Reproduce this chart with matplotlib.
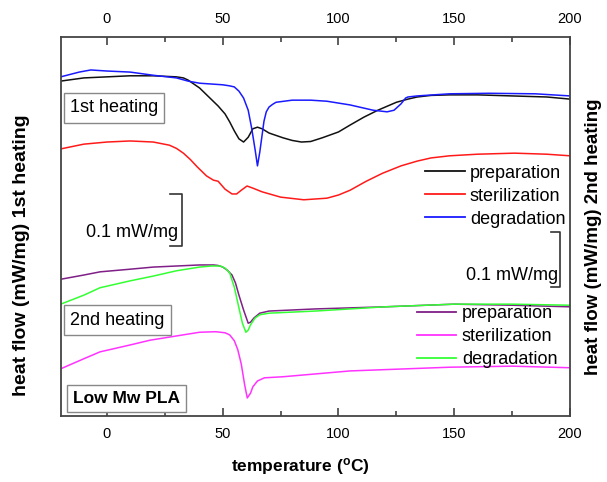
import matplotlib
matplotlib.use('Agg')
import matplotlib.pyplot as plt
from matplotlib.lines import Line2D
from matplotlib.ticker import MultipleLocator

plt.rcParams['font.family'] = ['Liberation Sans', 'DejaVu Sans']
plt.rcParams['mathtext.fontset'] = 'custom'
plt.rcParams['mathtext.rm'] = 'Liberation Sans'
plt.rcParams['mathtext.bf'] = 'Liberation Sans:bold'

# 1st heating, offset heat flow (mW/mg)
t_prep1 = [-20, -10, 0, 10, 20, 30, 33, 35, 37, 40, 44, 48, 51, 53, 55, 57, 59, 61, 63, 65, 67,
           70, 76, 80, 84, 88, 93, 100, 105, 111, 117, 125, 130, 134, 140, 148, 160, 175, 190, 200]
hf_prep1 = [0.632, 0.638, 0.640, 0.642, 0.642, 0.640, 0.638, 0.634, 0.628, 0.619, 0.602, 0.585,
            0.570, 0.555, 0.538, 0.523, 0.517, 0.526, 0.542, 0.545, 0.542, 0.534, 0.525, 0.520,
            0.517, 0.518, 0.525, 0.536, 0.549, 0.564, 0.577, 0.592, 0.598, 0.602, 0.605, 0.606,
            0.606, 0.604, 0.602, 0.598]

t_ster1 = [-20, -10, 0, 10, 20, 27, 30, 33, 36, 39, 43, 46, 48, 51, 54, 56, 58, 60.5, 63, 67,
           75, 85, 95, 100, 105, 112, 119, 127, 134, 140, 148, 160, 176, 190, 200]
hf_ster1 = [0.504, 0.513, 0.517, 0.519, 0.517, 0.511, 0.505, 0.496, 0.484, 0.470, 0.453, 0.445,
            0.443, 0.428, 0.419, 0.419, 0.426, 0.434, 0.430, 0.423, 0.413, 0.408, 0.411, 0.417,
            0.426, 0.443, 0.458, 0.472, 0.481, 0.487, 0.491, 0.494, 0.496, 0.494, 0.491]

t_degr1 = [-20, -12, -7, 0, 10, 20, 30, 35, 40, 50, 53, 55, 57, 59, 61, 62.5, 64, 65, 66, 67,
           67.8, 68.8, 70, 71.5, 73, 80, 88, 95, 105, 115, 121, 124, 127, 129, 130, 134, 148,
           165, 185, 200]
hf_degr1 = [0.640, 0.649, 0.653, 0.651, 0.649, 0.643, 0.638, 0.632, 0.628, 0.625, 0.623, 0.621,
            0.613, 0.600, 0.577, 0.543, 0.502, 0.472, 0.498, 0.530, 0.556, 0.574, 0.583, 0.588,
            0.592, 0.596, 0.596, 0.594, 0.587, 0.577, 0.574, 0.577, 0.589, 0.600, 0.602, 0.604,
            0.608, 0.609, 0.608, 0.604]

# 2nd heating
t_prep2 = [-20, -10, -3, 10, 20, 30, 40, 46, 48, 50, 52, 54, 55.5, 57, 59, 61, 62, 63.5, 66,
           70, 90, 120, 150, 175, 200]
hf_prep2 = [0.258, 0.266, 0.272, 0.277, 0.281, 0.283, 0.285, 0.285, 0.284, 0.281, 0.275, 0.266,
            0.251, 0.228, 0.200, 0.175, 0.177, 0.185, 0.194, 0.198, 0.202, 0.206, 0.211, 0.209,
            0.206]

t_ster2 = [-20, -10, -3, 10, 18.6, 30, 40, 47, 51, 53, 55, 56.5, 58, 59.5, 60.6, 62, 63, 65,
           68, 76, 105, 148, 175, 200]
hf_ster2 = [0.089, 0.108, 0.121, 0.134, 0.143, 0.151, 0.158, 0.159, 0.157, 0.153, 0.142, 0.125,
            0.098, 0.058, 0.034, 0.043, 0.055, 0.066, 0.072, 0.074, 0.085, 0.092, 0.094, 0.091]

t_degr2 = [-20, -10, -3, 10, 20, 30, 40, 45, 49, 51, 53, 55, 57, 58.5, 60, 61, 62, 64, 66, 70,
           90, 120, 150, 175, 200]
hf_degr2 = [0.211, 0.228, 0.242, 0.255, 0.264, 0.274, 0.281, 0.283, 0.283, 0.279, 0.270, 0.243,
            0.204, 0.175, 0.158, 0.162, 0.172, 0.185, 0.191, 0.194, 0.198, 0.206, 0.211, 0.211,
            0.209]

labels = ['preparation', 'sterilization', 'degradation']
colors1 = ['#111111', '#ff1a1a', '#1a1aff']
colors2 = ['#7f1f87', '#ff33ff', '#33ff33']

fig = plt.figure(figsize=(6.07, 4.82), dpi=100)
ax = fig.add_axes([0.100, 0.137, 0.839, 0.786])

series1 = [(t_prep1, hf_prep1), (t_ster1, hf_ster1), (t_degr1, hf_degr1)]
series2 = [(t_prep2, hf_prep2), (t_ster2, hf_ster2), (t_degr2, hf_degr2)]
for (t, hf), c in zip(series1, colors1):
    ax.plot(t, hf, color=c, lw=1.1)
for (t, hf), c in zip(series2, colors2):
    ax.plot(t, hf, color=c, lw=1.1)

ax.set_xlim(-20, 200)
ax.set_ylim(0, 0.715)
ax.set_yticks([])
ax.xaxis.set_major_locator(MultipleLocator(50))
ax.xaxis.set_minor_locator(MultipleLocator(25))
ax.tick_params(axis='x', which='both', direction='in', top=True, labeltop=True,
               colors='#333333', labelcolor='black', labelsize=10.5, pad=8)
ax.tick_params(axis='x', which='major', length=6, width=1.1)
ax.tick_params(axis='x', which='minor', length=3.5, width=1.1)
for s in ax.spines.values():
    s.set_color('#444444')
    s.set_linewidth(1.3)

# legends
h1 = [Line2D([], [], color=c, lw=1.3) for c in colors1]
h2 = [Line2D([], [], color=c, lw=1.3) for c in colors2]
leg1 = ax.legend(h1, labels, loc='upper left', bbox_to_anchor=(0.715, 0.663), frameon=False,
                 fontsize=13, handlelength=2.2, handletextpad=0.3, labelspacing=0.33,
                 borderpad=0, borderaxespad=0)
ax.add_artist(leg1)
ax.legend(h2, labels, loc='upper left', bbox_to_anchor=(0.699, 0.293), frameon=False,
          fontsize=13, handlelength=2.2, handletextpad=0.3, labelspacing=0.33,
          borderpad=0, borderaxespad=0)

# scale bars 0.1 mW/mg
bar_col = '#333333'
ax.plot([27.3, 32.5, 32.5, 27.3], [0.419, 0.419, 0.321, 0.321], color=bar_col, lw=1.2)
ax.text(30.7, 0.347, '0.1 mW/mg', ha='right', va='center', fontsize=13)
ax.plot([191.8, 195.7, 195.7, 191.8], [0.347, 0.347, 0.243, 0.243], color=bar_col, lw=1.2)
ax.text(194.8, 0.266, '0.1 mW/mg', ha='right', va='center', fontsize=13)

# boxed labels
box = dict(boxstyle='square,pad=0.35', facecolor='white', edgecolor='#888888', lw=1.0)
ax.text(0.018, 0.813, '1st heating', transform=ax.transAxes, ha='left', va='center',
        fontsize=13, bbox=box)
ax.text(0.018, 0.253, '2nd heating', transform=ax.transAxes, ha='left', va='center',
        fontsize=13, bbox=box)
ax.text(0.024, 0.046, 'Low Mw PLA', transform=ax.transAxes, ha='left', va='center',
        fontsize=12.5, fontweight='bold', bbox=box)

fig.text(0.036, 0.471, 'heat flow (mW/mg) 1st heating', rotation=90, ha='center', va='center',
         fontsize=14, fontweight='bold')
fig.text(0.977, 0.508, 'heat flow (mW/mg) 2nd heating', rotation=90, ha='center', va='center',
         fontsize=13.5, fontweight='bold')
fig.text(0.494, 0.033, r'temperature ($\mathbf{^o}$C)', ha='center', va='center',
         fontsize=12.5, fontweight='bold')

fig.savefig('out.png', dpi=100)
